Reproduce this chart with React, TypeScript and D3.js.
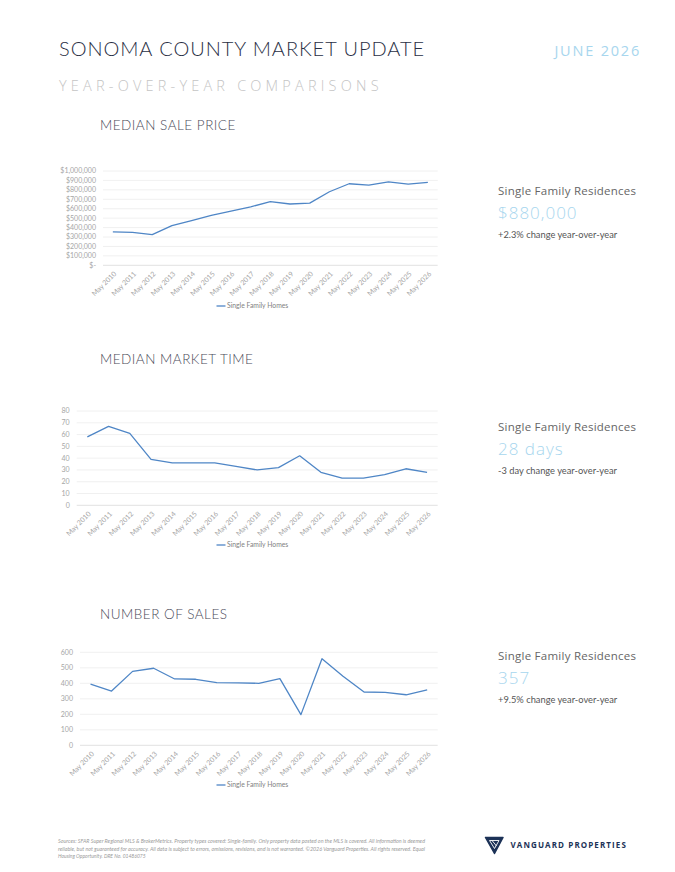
import React, { useEffect, useRef } from 'react';
import * as d3 from 'd3';

// --- data -------------------------------------------------------------
const periods = [
  'May 2010', 'May 2011', 'May 2012', 'May 2013', 'May 2014', 'May 2015',
  'May 2016', 'May 2017', 'May 2018', 'May 2019', 'May 2020', 'May 2021',
  'May 2022', 'May 2023', 'May 2024', 'May 2025', 'May 2026',
];

const medianPrice = [
  355000, 350000, 325000, 420000, 475000, 530000, 575000, 620000, 675000,
  650000, 660000, 780000, 865000, 850000, 885000, 860000, 880000,
];
const marketDays = [58, 67, 61, 39, 36, 36, 36, 33, 30, 32, 42, 28, 23, 23, 26, 31, 28];
const salesCount = [394, 350, 477, 497, 428, 426, 404, 403, 400, 430, 198, 559, 445, 344, 342, 326, 357];

const priceTicks = [0, 100000, 200000, 300000, 400000, 500000, 600000, 700000, 800000, 900000, 1000000];
const dayTicks = [0, 10, 20, 30, 40, 50, 60, 70, 80];
const salesTicks = [0, 100, 200, 300, 400, 500, 600];

const seriesName = 'Single Family Homes';

const footnote = [
  'Sources: SFAR Super Regional MLS & BrokerMetrics. Property types covered: Single-family. Only property data posted on the MLS is covered. All information is deemed',
  'reliable, but not guaranteed for accuracy. All data is subject to errors, omissions, revisions, and is not warranted. ©2026 Vanguard Properties. All rights reserved. Equal',
  'Housing Opportunity. DRE No. 01486075',
];

const LINE = '#4f86c6';
const AXIS_TEXT = '#a6a6a6';
const GRID = '#ececec';
const ACCENT = '#a7d6ee';

const fmtPrice = (v: number) => (v === 0 ? '$-' : d3.format('$,')(v));
const fmtPlain = (v: number) => String(v);

type ChartProps = {
  values: number[];
  ticks: number[];
  fmt: (v: number) => string;
  left: number;
  right: number;
  top: number;
  bottom: number;
  legendY: number;
};

function LineChart({ values, ticks, fmt, left, right, top, bottom, legendY }: ChartProps) {
  const ref = useRef<SVGGElement>(null);

  useEffect(() => {
    const g = d3.select(ref.current);
    g.selectAll('*').remove();

    const x = d3.scalePoint<string>().domain(periods).range([left, right]).padding(0.5);
    const y = d3.scaleLinear().domain([0, ticks[ticks.length - 1]]).range([bottom, top]);

    // horizontal gridlines
    g.append('g')
      .selectAll('line')
      .data(ticks)
      .join('line')
      .attr('x1', left)
      .attr('x2', right)
      .attr('y1', d => y(d))
      .attr('y2', d => y(d))
      .attr('stroke', d => (d === 0 ? '#d9d9d9' : GRID))
      .attr('stroke-width', 0.8);

    // value labels
    g.append('g')
      .selectAll('text')
      .data(ticks)
      .join('text')
      .attr('x', left - 7)
      .attr('y', d => y(d))
      .attr('dy', '0.35em')
      .attr('text-anchor', 'end')
      .attr('font-size', 7)
      .attr('fill', AXIS_TEXT)
      .text(d => fmt(d));

    // period labels, slanted
    g.append('g')
      .selectAll('text')
      .data(periods)
      .join('text')
      .attr('transform', d => `translate(${(x(d) as number) + 4},${bottom + 9}) rotate(-45)`)
      .attr('text-anchor', 'end')
      .attr('font-size', 7)
      .attr('fill', AXIS_TEXT)
      .text(d => d);

    const line = d3.line<number>()
      .x((_, i) => x(periods[i]) as number)
      .y(d => y(d));

    g.append('path')
      .datum(values)
      .attr('d', line)
      .attr('fill', 'none')
      .attr('stroke', LINE)
      .attr('stroke-width', 1.3)
      .attr('stroke-linejoin', 'round');

    // legend
    const lg = g.append('g').attr('transform', `translate(216.5,${legendY})`);
    lg.append('line')
      .attr('x1', 0).attr('x2', 9)
      .attr('y1', 0).attr('y2', 0)
      .attr('stroke', LINE).attr('stroke-width', 1.3);
    lg.append('text')
      .attr('x', 10.5)
      .attr('dy', '0.35em')
      .attr('font-size', 6.8)
      .attr('fill', '#7f7f7f')
      .text(seriesName);
  }, [values, ticks, fmt, left, right, top, bottom, legendY]);

  return <g ref={ref} fontFamily="Lato, sans-serif" />;
}

type StatProps = { y: number; value: string; change: string };

function Stat({ y, value, change }: StatProps) {
  return (
    <g fontFamily="'Open Sans', sans-serif">
      <text x={498} y={y} fontSize={11.5} fill="#666" letterSpacing={0.25}>Single Family Residences</text>
      <text x={498} y={y + 24} fontSize={17} fontWeight={300} fill={ACCENT} letterSpacing={1}>{value}</text>
      <text x={498} y={y + 43} fontSize={9.3} fill="#555" fontFamily="Lato, sans-serif">{change}</text>
    </g>
  );
}

function Heading({ y, label }: { y: number; label: string }) {
  return (
    <text x={100} y={y} fontSize={13.5} fill="#4a4a58" fontFamily="Lato, sans-serif" fontWeight={300} letterSpacing={0.5}>
      {label}
    </text>
  );
}

export default function App() {
  return (
    <svg
      width={675}
      height={872}
      style={{ position: 'absolute', left: 0, top: 0, background: '#fff' }}
    >
      <text x={59} y={56} fontSize={20} fontFamily="Lato, sans-serif" fontWeight={300} fill="#2a2f45" letterSpacing={0.95}>
        SONOMA COUNTY MARKET UPDATE
      </text>
      <text x={641} y={56} textAnchor="end" fontSize={14.5} fontFamily="'Open Sans', sans-serif" fill={ACCENT} letterSpacing={1.8}>
        JUNE 2026
      </text>
      <text x={59} y={91} fontSize={14.5} fontFamily="'Open Sans', sans-serif" fontWeight={300} fill="#c4c4c4" letterSpacing={4.2}>
        YEAR-OVER-YEAR COMPARISONS
      </text>

      <Heading y={129.5} label="MEDIAN SALE PRICE" />
      <LineChart values={medianPrice} ticks={priceTicks} fmt={fmtPrice}
        left={103} right={437.7} top={171} bottom={265.3} legendY={306} />
      <Stat y={195} value="$880,000" change="+2.3% change year-over-year" />

      <Heading y={363.5} label="MEDIAN MARKET TIME" />
      <LineChart values={marketDays} ticks={dayTicks} fmt={fmtPlain}
        left={76.7} right={437.7} top={411} bottom={505.3} legendY={545} />
      <Stat y={431} value="28 days" change="-3 day change year-over-year" />

      <Heading y={618.5} label="NUMBER OF SALES" />
      <LineChart values={salesCount} ticks={salesTicks} fmt={fmtPlain}
        left={80} right={437.7} top={652.3} bottom={745.3} legendY={785} />
      <Stat y={660} value="357" change="+9.5% change year-over-year" />

      {/* footnote */}
      <g fontFamily="Lato, sans-serif" fontStyle="italic" fontSize={5} fill="#9a9a9a">
        {footnote.map((t, i) => (
          <text key={i} x={58} y={843 + i * 7.5} textLength={i < 2 ? 367 : undefined} lengthAdjust="spacingAndGlyphs">
            {t}
          </text>
        ))}
      </g>

      {/* brand mark */}
      <g>
        <path d="M485.5,837.5 L503,837.5 L494.5,853.5 Z" fill="#1c3257" stroke="#1c3257" strokeWidth={1.5} strokeLinejoin="round" />
        <path d="M489.5,840.5 L499,840.5 L494.5,848.5 Z M492,840.5 L496.5,846" fill="none" stroke="#fff" strokeWidth={0.9} />
        <text x={510.5} y={848.3} fontSize={8} fontWeight={700} fontFamily="'Open Sans', sans-serif" fill="#1c3257" letterSpacing={1.1}>
          VANGUARD PROPERTIES
        </text>
      </g>
    </svg>
  );
}
